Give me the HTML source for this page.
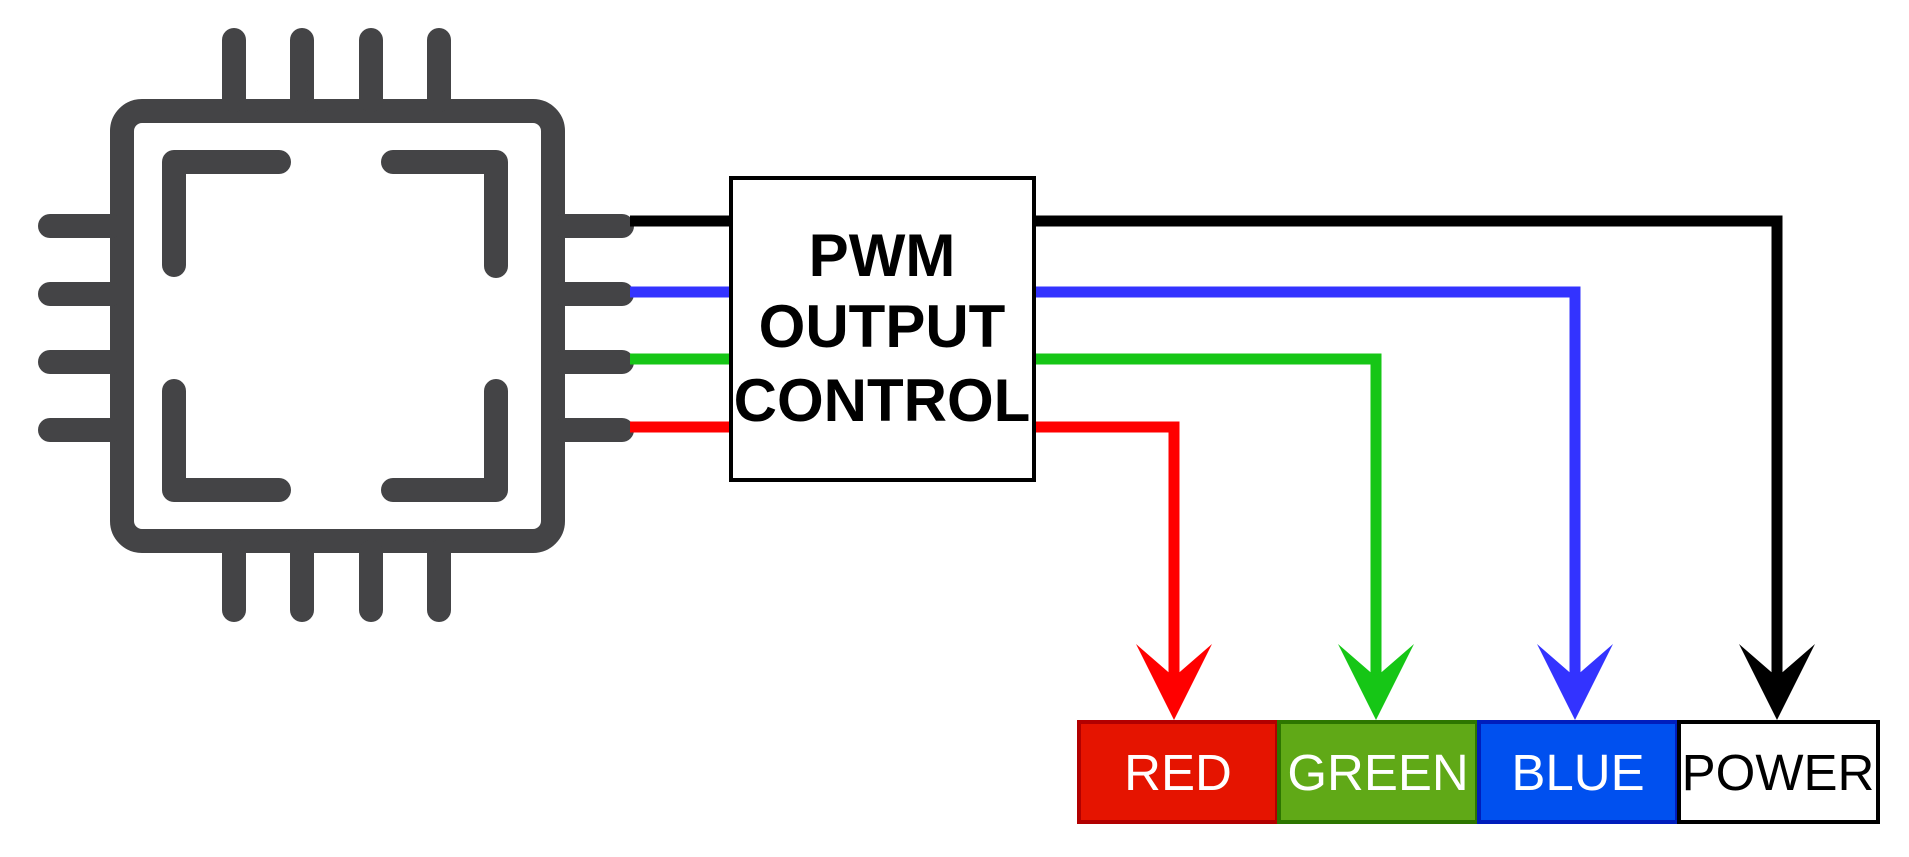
<!DOCTYPE html>
<html><head><meta charset="utf-8"><style>html,body{margin:0;padding:0;background:#fff}svg{display:block}</style></head>
<body>
<svg width="1909" height="857" viewBox="0 0 1909 857" xmlns="http://www.w3.org/2000/svg">
<g stroke="#444446" stroke-width="24" fill="none" stroke-linecap="round">
  <rect x="122" y="111" width="431" height="430" rx="20" stroke-linecap="butt"/>
  <line x1="234" y1="40" x2="234" y2="100"/><line x1="302" y1="40" x2="302" y2="100"/>
  <line x1="371" y1="40" x2="371" y2="100"/><line x1="439" y1="40" x2="439" y2="100"/>
  <line x1="234" y1="552" x2="234" y2="610"/><line x1="302" y1="552" x2="302" y2="610"/>
  <line x1="371" y1="552" x2="371" y2="610"/><line x1="439" y1="552" x2="439" y2="610"/>
  <line x1="50" y1="226" x2="111" y2="226"/><line x1="50" y1="294" x2="111" y2="294"/>
  <line x1="50" y1="362" x2="111" y2="362"/><line x1="50" y1="430" x2="111" y2="430"/>
  <line x1="564" y1="226" x2="622" y2="226"/><line x1="564" y1="294" x2="622" y2="294"/>
  <line x1="564" y1="362" x2="622" y2="362"/><line x1="564" y1="430" x2="622" y2="430"/>
  <path d="M174 265 L174 162 L279 162" stroke-linejoin="round"/>
  <path d="M393 162 L496 162 L496 266" stroke-linejoin="round"/>
  <path d="M174 391 L174 490 L279 490" stroke-linejoin="round"/>
  <path d="M393 490 L496 490 L496 391" stroke-linejoin="round"/>
</g>
<g fill="none" stroke-width="11">
  <path d="M630 221 H1777 V680" stroke="#000"/>
  <path d="M630 292 H1575 V680" stroke="#3333ff"/>
  <path d="M630 359 H1376 V680" stroke="#16c616"/>
  <path d="M630 427 H1174 V680" stroke="#ff0000"/>
</g>
<polygon points="1136,644 1174,677 1212,644 1174,720" fill="#ff0000"/>
<polygon points="1338,644 1376,677 1414,644 1376,720" fill="#16c616"/>
<polygon points="1537,644 1575,677 1613,644 1575,720" fill="#3333ff"/>
<polygon points="1739,644 1777,677 1815,644 1777,720" fill="#000"/>
<rect x="731" y="178" width="303" height="302" fill="#fff" stroke="#000" stroke-width="4"/>
<g font-family="Liberation Sans, sans-serif" font-weight="bold" font-size="60" text-anchor="middle" fill="#000">
  <text x="882" y="276">PWM</text><text x="882" y="347">OUTPUT</text><text x="882" y="421">CONTROL</text>
</g>
<rect x="1079" y="722" width="198" height="100" fill="#e51400" stroke="#b20000" stroke-width="4"/>
<rect x="1279" y="722" width="198" height="100" fill="#60a917" stroke="#2d7600" stroke-width="4"/>
<rect x="1479" y="722" width="198" height="100" fill="#0050ef" stroke="#001dbc" stroke-width="4"/>
<rect x="1679" y="722" width="199" height="100" fill="#fff" stroke="#000" stroke-width="4"/>
<g font-family="Liberation Sans, sans-serif" font-size="51" text-anchor="middle">
  <text x="1178" y="790" fill="#fff">RED</text>
  <text x="1378" y="790" fill="#fff">GREEN</text>
  <text x="1578" y="790" fill="#fff">BLUE</text>
  <text x="1778" y="790" fill="#000">POWER</text>
</g>
</svg>
</body></html>
